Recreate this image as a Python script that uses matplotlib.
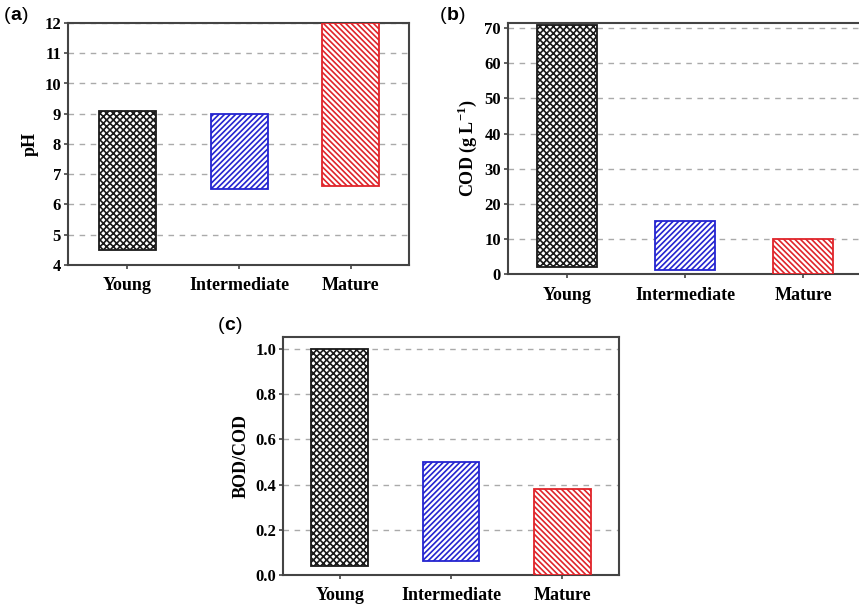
import matplotlib
matplotlib.use('Agg')
import matplotlib.pyplot as plt

categories = ['Young', 'Intermediate', 'Mature']

ph_low = [4.5, 6.5, 6.6]
ph_high = [9.1, 9.0, 12.0]

cod_low = [2.0, 1.0, 0.0]
cod_high = [71.0, 15.0, 10.0]

bodcod_low = [0.04, 0.06, 0.0]
bodcod_high = [1.0, 0.5, 0.38]

colors = ['#1a1a1a', '#2424d0', '#e0242a']
hatches = ['xxxxx', '//////', '\\\\\\\\\\\\']

plt.rcParams['font.family'] = ['Liberation Serif', 'DejaVu Serif']
plt.rcParams['mathtext.fontset'] = 'custom'
plt.rcParams['mathtext.rm'] = 'Liberation Serif:bold'
plt.rcParams['mathtext.bf'] = 'Liberation Serif:bold'
plt.rcParams['hatch.linewidth'] = 1.2

W, H = 859, 610
fig = plt.figure(figsize=(W / 100, H / 100), dpi=100)


def make_axes(left, top, right, bottom):
    return fig.add_axes([left / W, 1 - bottom / H, (right - left) / W, (bottom - top) / H])


def range_bars(ax, low, high, ylim, yticks, ylabel, xlim):
    x = range(1, len(categories) + 1)
    for i, (lo, hi) in enumerate(zip(low, high)):
        ax.bar(i + 1, hi - lo, bottom=lo, width=0.51, facecolor='white',
               edgecolor=colors[i], hatch=hatches[i], linewidth=1.3, zorder=3)
    ax.set_xlim(*xlim)
    ax.set_ylim(*ylim)
    ax.set_yticks(yticks)
    ax.set_xticks(list(x))
    ax.set_xticklabels(categories, fontsize=13, fontweight='bold')
    for lab in ax.get_yticklabels():
        lab.set_fontweight('bold')
        lab.set_fontsize(12)
    ax.set_ylabel(ylabel, fontsize=13, fontweight='bold')
    ax.yaxis.grid(True, linestyle=(0, (4, 4)), color='#aaaaaa', linewidth=1.0, zorder=0)
    ax.tick_params(axis='both', direction='out', length=3, width=1.2, color='#444444', pad=2)
    ax.tick_params(axis='x', pad=6)
    for s in ax.spines.values():
        s.set_linewidth(1.5)
        s.set_color('#444444')


ax1 = make_axes(68, 23, 409, 265)
range_bars(ax1, ph_low, ph_high, (4, 12), range(4, 13), 'pH', (0.47, 3.52))

ax2 = make_axes(508, 23, 868, 274)
range_bars(ax2, cod_low, cod_high, (0, 71.5), range(0, 71, 10), 'COD (g L$^{-1}$)', (0.5, 3.55))

ax3 = make_axes(283, 337, 619, 575)
range_bars(ax3, bodcod_low, bodcod_high, (0, 1.053), [0.0, 0.2, 0.4, 0.6, 0.8, 1.0],
           'BOD/COD', (0.49, 3.51))
ax3.set_yticklabels(['0.0', '0.2', '0.4', '0.6', '0.8', '1.0'], fontweight='bold', fontsize=12)

# panel letters: regular parentheses, bold letter
for letter, px, py in [('a', 4, 16), ('b', 440, 16), ('c', 218, 326)]:
    t1 = fig.text(px / W, 1 - py / H, '(', fontsize=14, family='Liberation Sans',
                  va='center', ha='left')
    mid = plt.annotate(letter, xy=(1, 0.5), xycoords=t1, xytext=(0, 0),
                       textcoords='offset points', va='center', ha='left',
                       fontsize=14, family='Liberation Sans', fontweight='bold',
                       annotation_clip=False)
    plt.annotate(')', xy=(1, 0.5), xycoords=mid, xytext=(0, 0),
                 textcoords='offset points', va='center', ha='left',
                 fontsize=14, family='Liberation Sans', annotation_clip=False)

fig.savefig('out.png', dpi=100)
